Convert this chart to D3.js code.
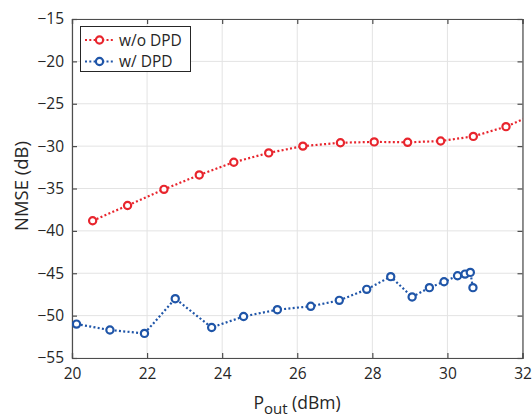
<!DOCTYPE html>
<html><head><meta charset="utf-8">
<script src="https://cdn.jsdelivr.net/npm/d3@7"></script>
<style>body{margin:0;background:#fff;}svg{display:block;font-family:"Open Sans","Noto Sans",sans-serif;}</style>
</head><body>
<script>
const woX = [20.55,21.48,22.45,23.39,24.31,25.24,26.15,27.15,28.05,28.94,29.82,30.69,31.56,32.45];
const woY = [-38.8,-37.0,-35.1,-33.4,-31.9,-30.8,-30.0,-29.6,-29.5,-29.55,-29.4,-28.85,-27.7,-26.0];
const wX = [20.12,21.01,21.93,22.75,23.72,24.57,25.47,26.36,27.12,27.85,28.49,29.06,29.52,29.91,30.27,30.47,30.61,30.68];
const wY = [-51.0,-51.7,-52.1,-48.0,-51.4,-50.1,-49.3,-48.9,-48.2,-46.9,-45.4,-47.8,-46.7,-46.0,-45.3,-45.1,-44.9,-46.7];
const xTicks = [20,22,24,26,28,30,32];
const yTicks = [-55,-50,-45,-40,-35,-30,-25,-20,-15];
const seriesNames = ["w/o DPD","w/ DPD"];
const colors = ["#e8252d","#1f55a8"];

const W=532,H=419;
const L=72,R=522.5,T=19,B=358;
const svg=d3.select("body").append("svg").attr("width",W).attr("height",H);
const x=d3.scaleLinear().domain([20,32]).range([L,R]);
const y=d3.scaleLinear().domain([-55,-15]).range([B,T]);
const txt="#262626";

// grid
const g=svg.append("g");
g.selectAll(".gx").data(xTicks).enter().append("line")
 .attr("x1",d=>x(d)).attr("x2",d=>x(d)).attr("y1",T).attr("y2",B)
 .attr("stroke","#e3e3e3").attr("stroke-width",1);
g.selectAll(".gy").data(yTicks).enter().append("line")
 .attr("y1",d=>y(d)).attr("y2",d=>y(d)).attr("x1",L).attr("x2",R)
 .attr("stroke","#e3e3e3").attr("stroke-width",1);

// axes
const fmt=d=>d<0?"\u2212"+Math.abs(d):String(d);
const ax=svg.append("g").attr("transform",`translate(0,${B})`)
 .call(d3.axisBottom(x).tickValues(xTicks).tickSize(-5).tickPadding(10).tickFormat(fmt));
const axT=svg.append("g").attr("transform",`translate(0,${T})`)
 .call(d3.axisTop(x).tickValues(xTicks).tickSize(-5).tickFormat(""));
const ay=svg.append("g").attr("transform",`translate(${L},0)`)
 .call(d3.axisLeft(y).tickValues(yTicks).tickSize(-5).tickPadding(8).tickFormat(fmt));
const ayR=svg.append("g").attr("transform",`translate(${R},0)`)
 .call(d3.axisRight(y).tickValues(yTicks).tickSize(-5).tickFormat(""));
[ax,axT,ay,ayR].forEach(a=>{
 a.select(".domain").attr("stroke","#4d4d4d").attr("stroke-width",1.2);
 a.selectAll(".tick line").attr("stroke","#4d4d4d").attr("stroke-width",1.2);
 a.selectAll("text").attr("fill",txt).style("font-size","15.5px").style("font-family",'"Open Sans","Noto Sans",sans-serif');
});

// clip
svg.append("clipPath").attr("id","clip").append("rect").attr("x",L).attr("y",T).attr("width",R-L).attr("height",B-T);

const line=d3.line().x(d=>x(d[0])).y(d=>y(d[1]));
const data=[d3.zip(woX,woY),d3.zip(wX,wY)];
data.forEach((pts,i)=>{
 const gg=svg.append("g").attr("clip-path","url(#clip)");
 gg.append("path").datum(pts).attr("d",line).attr("fill","none")
  .attr("stroke",colors[i]).attr("stroke-width",2.2).attr("stroke-dasharray","2,2.3");
 gg.selectAll("circle").data(pts).enter().append("circle")
  .attr("cx",d=>x(d[0])).attr("cy",d=>y(d[1])).attr("r",3.6)
  .attr("fill","#fff").attr("stroke",colors[i]).attr("stroke-width",2.2);
});

// legend
const lg=svg.append("g");
lg.append("rect").attr("x",80.5).attr("y",26.5).attr("width",110).attr("height",45)
 .attr("fill","#fff").attr("stroke","#262626").attr("stroke-width",1);
seriesNames.forEach((n,i)=>{
 const yy=40+i*21.5;
 lg.append("line").attr("x1",85).attr("x2",115).attr("y1",yy).attr("y2",yy)
  .attr("stroke",colors[i]).attr("stroke-width",2.2).attr("stroke-dasharray","2,2.3");
 lg.append("circle").attr("cx",99.5).attr("cy",yy).attr("r",3.6)
  .attr("fill","#fff").attr("stroke",colors[i]).attr("stroke-width",2.2);
 lg.append("text").attr("x",119).attr("y",yy+5.5).text(n)
  .attr("fill",txt).style("font-size","15.5px");
});

// axis labels
const xl=svg.append("text").attr("x",297).attr("y",409).attr("text-anchor","middle")
 .attr("fill",txt).style("font-size","17.5px");
xl.append("tspan").text("P");
xl.append("tspan").text("out").attr("dy",5).style("font-size","15px");
xl.append("tspan").text(" (dBm)").attr("dy",-5);
svg.append("text").attr("transform","translate(28,186) rotate(-90)").attr("text-anchor","middle")
 .attr("fill",txt).style("font-size","18.5px").text("NMSE (dB)");
</script>
</body></html>
